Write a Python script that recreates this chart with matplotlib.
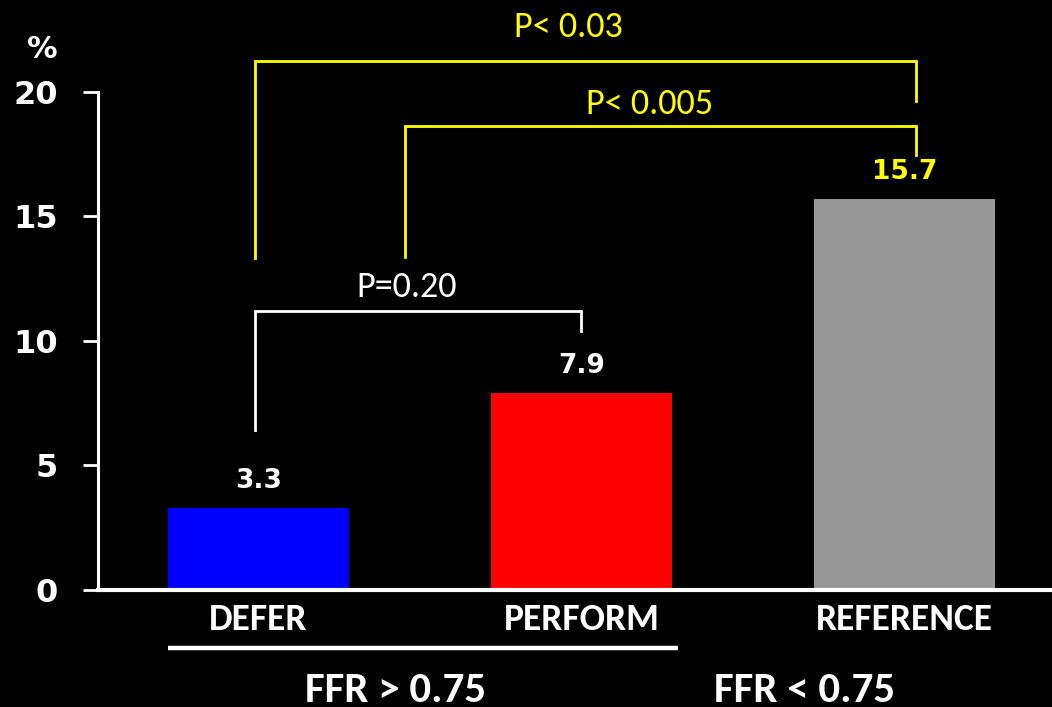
import matplotlib
matplotlib.use('Agg')
from matplotlib import pyplot as plt

# event rates (%)
groups = ['DEFER', 'PERFORM', 'REFERENCE']
rates = [3.3, 7.9, 15.7]
bar_colors = ['#0000FF', '#FF0000', '#969696']
value_colors = ['white', 'white', '#FFFF00']

# pairwise comparisons: (left group, right group, label)
comparisons = [(0, 1, 'P=0.20'), (1, 2, 'P< 0.005'), (0, 2, 'P< 0.03')]

yticks = [0, 5, 10, 15, 20]
ffr_labels = ['FFR > 0.75', 'FFR < 0.75']

calibri = ['Carlito', 'DejaVu Sans']

fig = plt.figure(figsize=(10.52, 7.07), dpi=100, facecolor='black')
ax = fig.add_axes([0.0932, 0.1655, 0.9068, 0.7044], facecolor='black')

x = list(range(len(groups)))
ax.bar(x, rates, width=0.56, color=bar_colors)
ax.set_xlim(-0.497, 2.457)
ax.set_ylim(0, 20)

# value labels over the bars
for xi, r, c in zip(x, rates, value_colors):
    ax.text(xi, r + 0.8, '{}'.format(r), ha='center', va='baseline', color=c,
            fontsize=19, fontweight='bold', family='DejaVu Sans')

# brackets: left foot, right foot, top, text position
brackets = [
    (-0.011, 0.998, 6.43, 10.4, 11.2, 'white', 0.46, 11.77),
    (0.454, 2.035, 13.37, 17.47, 18.63, '#FFFF00', 1.21, 19.12),
    (-0.011, 2.035, 13.33, 19.64, 21.24, '#FFFF00', 0.96, 22.2),
]
for (i, j, label), (xl, xr, yl, yr, yt, col, tx, ty) in zip(comparisons, brackets):
    ax.plot([xl, xl, xr, xr], [yl, yt, yt, yr], color=col, lw=2,
            clip_on=False, solid_joinstyle='miter')
    ax.text(tx, ty, label, ha='center', va='baseline', color=col,
            fontsize=26, family=calibri)

# axes styling
for s in ['top', 'right']:
    ax.spines[s].set_visible(False)
ax.spines['left'].set_color('white')
ax.spines['left'].set_linewidth(2.2)
ax.spines['bottom'].set_color('white')
ax.spines['bottom'].set_linewidth(3)
ax.set_yticks(yticks)
ax.set_yticklabels([str(t) for t in yticks])
ax.tick_params(axis='y', colors='white', direction='out', length=11, width=2,
               pad=18, labelsize=23)
for lab in ax.get_yticklabels():
    lab.set_fontweight('bold')
ax.set_xticks([])

# category names
for xi, g in zip(x, groups):
    ax.text(xi, -1.61, g, ha='center', va='baseline', color='white',
            fontsize=27, fontweight='bold', family=calibri, clip_on=False)

ax.text(-0.67, 21.37, '%', ha='center', va='baseline', color='white',
        fontsize=22, fontweight='bold')

# FFR grouping below the categories
ax.plot([-0.28, 1.30], [-2.33, -2.33], color='white', lw=3.2, clip_on=False,
        solid_capstyle='butt')
ax.text(0.423, -4.5, ffr_labels[0], ha='center', va='baseline', color='white',
        fontsize=31, fontweight='bold', family=calibri)
ax.text(1.69, -4.5, ffr_labels[1], ha='center', va='baseline', color='white',
        fontsize=31, fontweight='bold', family=calibri)

plt.savefig('out.png', dpi=100, facecolor='black')
